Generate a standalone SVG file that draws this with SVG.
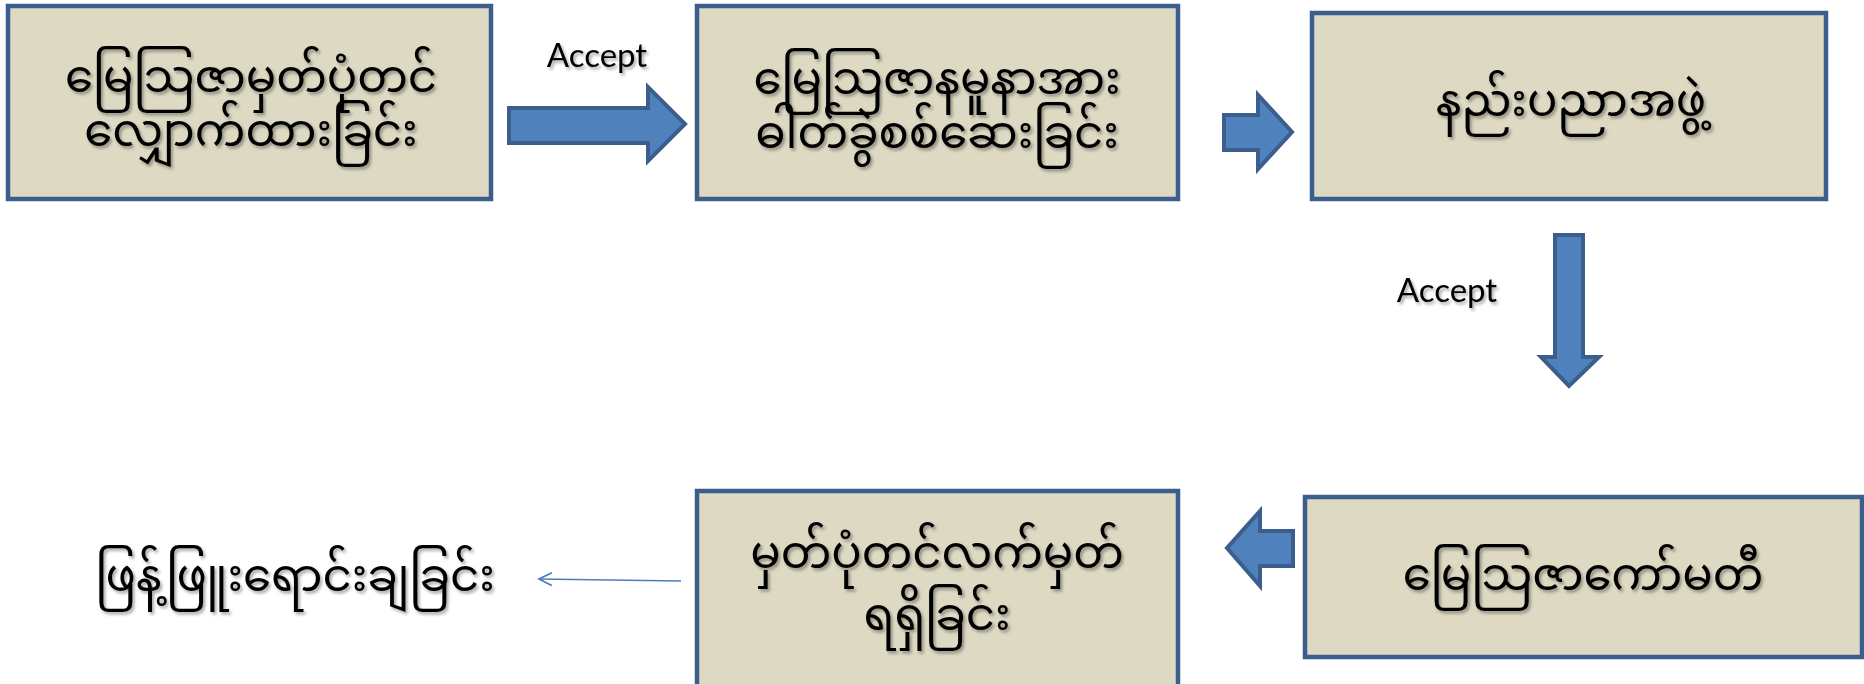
<svg xmlns="http://www.w3.org/2000/svg" width="1864" height="684" viewBox="0 0 1864 684">
<style>
.box{fill:#ddd9c3;stroke:#3b5e8c;stroke-width:4.5}
.blk{fill:#4f81bd;stroke:#3b5e8c;stroke-width:4;stroke-linejoin:miter}
.my{font-family:"Noto Sans Myanmar","Padauk","Myanmar Text","Noto Sans",sans-serif;font-size:45px;fill:#000;text-anchor:middle;filter:url(#sh)}
.lbl{font-family:Lato,"Open Sans","Liberation Sans",sans-serif;font-size:33px;fill:#000;text-anchor:middle;filter:url(#sh)}
</style>
<defs>
<filter id="sh" x="-10%" y="-20%" width="120%" height="150%">
<feDropShadow dx="2" dy="2.5" stdDeviation="1.5" flood-color="#000" flood-opacity="0.35"/>
</filter>
<marker id="ah" viewBox="0 0 10 10" refX="9" refY="5" markerWidth="16" markerHeight="16" markerUnits="userSpaceOnUse" orient="auto">
<path d="M1,1 L9,5 L1,9" fill="none" stroke="#4a7ebb" stroke-width="1.1"/>
</marker>
</defs>
<rect width="1864" height="684" fill="#fff"/>
<g id="connectors">
<path class="blk" d="M509,108 H648 V87 L685,124 L648,161 V143 H509 Z"/>
<path class="blk" d="M1224,115 H1258 V95 L1292,132 L1258,169 V150 H1224 Z"/>
<path class="blk" d="M1555,235 H1583 V357 H1599 L1569,386 L1541,357 H1555 Z"/>
<path class="blk" d="M1293,531 V566 H1260 V586 L1227,548 L1260,511 V531 Z"/>
<line x1="681" y1="581" x2="539" y2="579" stroke="#4a7ebb" stroke-width="1.5" marker-end="url(#ah)"/>
<text class="lbl" x="597" y="67">Accept</text>
<text class="lbl" x="1447" y="302">Accept</text>
</g>
<g id="n1">
<rect class="box" x="8" y="6" width="483" height="193"/>
<text class="my" x="251" y="92">မြေသြဇာမှတ်ပုံတင်</text>
<text class="my" x="251" y="146">လျှောက်ထားခြင်း</text>
</g>
<g id="n2">
<rect class="box" x="697" y="6" width="481" height="193"/>
<text class="my" x="937" y="94">မြေသြဇာနမူနာအား</text>
<text class="my" x="937" y="148">ဓါတ်ခွဲစစ်ဆေးခြင်း</text>
</g>
<g id="n3">
<rect class="box" x="1312" y="13" width="514" height="186"/>
<text class="my" x="1571" y="116">နည်းပညာအဖွဲ့</text>
</g>
<g id="n4">
<rect class="box" x="1305" y="497" width="557" height="160"/>
<text class="my" x="1583" y="590">မြေသြဇာကော်မတီ</text>
</g>
<g id="n5">
<rect class="box" x="697" y="491" width="481" height="200"/>
<text class="my" x="937" y="568">မှတ်ပုံတင်လက်မှတ်</text>
<text class="my" x="937" y="630">ရရှိခြင်း</text>
</g>
<g id="n6">
<text class="my" x="295" y="591">ဖြန့်ဖြူးရောင်းချခြင်း</text>
</g>
</svg>
